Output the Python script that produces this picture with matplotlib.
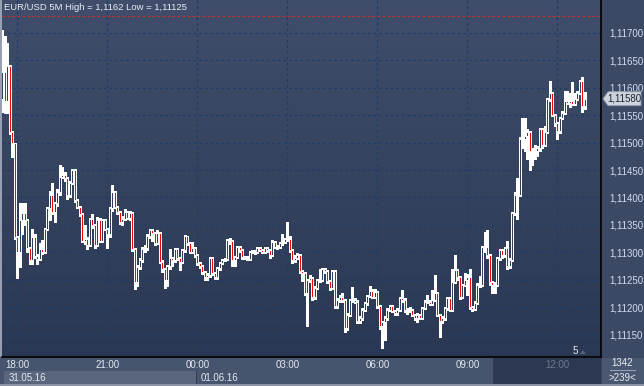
import numpy as np
import matplotlib
matplotlib.use("Agg")
import matplotlib.pyplot as plt
from matplotlib.patches import Rectangle, Polygon

plt.rcParams['font.family'] = ['Liberation Sans', 'DejaVu Sans']

# ---------------- data (prices as 1.11000 + points/100000) ----------------
BASE = 1.11
first_open_pts = 580
close_pts = [629, 575, 639, 519, 499, 328, 300, 358, 371, 358, 308, 285, 328, 294, 288, 306, 300, 343, 380, 404,
             374, 389, 410, 438, 441, 435, 404, 426, 450, 395, 383, 369, 321, 325, 314, 361, 350, 314, 358, 321,
             358, 343, 334, 380, 410, 383, 374, 355, 360, 374, 362, 371, 305, 246, 273, 285, 306, 308, 330, 340,
             335, 317, 335, 283, 269, 250, 274, 289, 285, 306, 289, 283, 304, 329, 317, 301, 307, 295, 280, 275,
             263, 255, 258, 289, 262, 255, 271, 280, 286, 288, 323, 320, 286, 292, 309, 304, 291, 290, 288, 300,
             301, 301, 307, 304, 301, 307, 304, 295, 319, 310, 310, 316, 319, 324, 324, 304, 286, 290, 295, 265,
             262, 225, 250, 253, 219, 235, 250, 250, 269, 265, 247, 235, 265, 201, 213, 219, 213, 162, 186, 212,
             213, 210, 174, 180, 195, 207, 220, 230, 219, 228, 201, 165, 172, 180, 195, 201, 192, 189, 195, 216,
             213, 195, 195, 195, 186, 180, 186, 180, 198, 210, 210, 206, 213, 225, 186, 174, 180, 198, 216, 195,
             246, 268, 254, 219, 240, 250, 255, 200, 196, 208, 240, 240, 310, 310, 295, 245, 240, 240, 289, 304,
             295, 307, 274, 286, 371, 405, 405, 506, 506, 512, 520, 484, 487, 484, 490, 524, 496, 520, 580, 591,
             551, 536, 521, 545, 554, 576, 573, 576, 571, 580, 591, 612, 566, 580]
high_pts = [706, 695, 682, 642, 522, 500, 330, 389, 389, 389, 360, 310, 343, 334, 296, 316, 322, 345, 383, 412,
            426, 392, 416, 459, 456, 446, 437, 430, 452, 451, 397, 385, 371, 350, 327, 363, 369, 352, 364, 363,
            361, 360, 345, 383, 422, 412, 385, 376, 366, 378, 376, 376, 373, 307, 276, 290, 310, 314, 334, 343,
            342, 337, 341, 337, 285, 271, 276, 306, 292, 308, 307, 291, 306, 331, 330, 318, 318, 309, 297, 282,
            277, 265, 262, 292, 291, 264, 273, 282, 288, 290, 325, 326, 322, 294, 311, 311, 306, 294, 293, 302,
            304, 304, 310, 309, 306, 309, 309, 306, 322, 321, 313, 318, 334, 326, 356, 330, 306, 295, 298, 297,
            268, 264, 252, 258, 255, 238, 252, 269, 271, 271, 267, 249, 267, 267, 216, 222, 225, 215, 189, 214,
            236, 216, 212, 183, 198, 209, 222, 238, 232, 232, 230, 203, 175, 183, 198, 204, 203, 194, 198, 218,
            231, 216, 198, 200, 197, 188, 189, 188, 200, 213, 222, 212, 231, 259, 227, 188, 183, 200, 219, 218,
            269, 295, 270, 256, 242, 262, 260, 269, 202, 211, 243, 256, 312, 336, 340, 297, 248, 245, 292, 306,
            306, 310, 320, 289, 374, 410, 435, 510, 545, 545, 524, 522, 490, 495, 493, 527, 526, 530, 582, 612,
            593, 553, 538, 547, 557, 595, 595, 590, 610, 590, 595, 614, 620, 592]
low_pts = [555, 554, 554, 515, 474, 325, 253, 273, 334, 350, 300, 279, 279, 290, 279, 285, 296, 298, 340, 358,
           370, 355, 385, 405, 435, 430, 398, 400, 424, 392, 380, 366, 318, 315, 305, 312, 345, 307, 312, 318,
           318, 340, 307, 328, 376, 380, 369, 352, 350, 358, 360, 358, 303, 233, 238, 270, 282, 300, 304, 326,
           320, 314, 315, 280, 264, 235, 238, 270, 275, 282, 285, 268, 280, 300, 314, 298, 298, 292, 277, 272,
           260, 249, 249, 255, 258, 252, 252, 268, 278, 284, 286, 315, 274, 274, 290, 300, 288, 287, 285, 286,
           298, 296, 299, 302, 298, 299, 301, 289, 293, 307, 306, 308, 314, 317, 320, 300, 280, 283, 287, 262,
           248, 222, 165, 245, 213, 215, 232, 246, 248, 262, 243, 231, 232, 198, 198, 210, 210, 154, 158, 184,
           210, 207, 171, 171, 177, 192, 204, 218, 216, 216, 198, 160, 125, 140, 176, 192, 190, 186, 186, 193,
           210, 190, 188, 190, 183, 176, 172, 178, 178, 196, 207, 203, 204, 211, 183, 145, 171, 177, 195, 192,
           193, 243, 250, 215, 216, 238, 222, 196, 192, 194, 206, 236, 238, 300, 290, 240, 225, 225, 238, 286,
           290, 292, 270, 272, 284, 368, 360, 403, 490, 485, 470, 450, 460, 470, 475, 485, 490, 494, 518, 575,
           548, 530, 506, 518, 543, 552, 570, 565, 568, 568, 578, 589, 555, 562]

hour_ticks = ["18:00", "21:00", "00:00", "03:00", "06:00", "09:00", "12:00"]
tick_bars = [0, 36, 72, 108, 144, 180, 216]      # bar offsets of the hour ticks
price_ticks = [1.1115, 1.1120, 1.1125, 1.1130, 1.1135, 1.1140, 1.1145, 1.1150,
               1.1155, 1.1160, 1.1165, 1.1170]
date_labels = ["31.05.16", "01.06.16"]
last_price = 1.11580
ref_line = 1.11731
title = "EUR/USD 5M High = 1,1162 Low = 1,11125"

closes = BASE + np.array(close_pts) / 1e5
opens = BASE + np.array([first_open_pts] + close_pts[:-1]) / 1e5
highs = BASE + np.array(high_pts) / 1e5
lows = BASE + np.array(low_pts) / 1e5
n = len(closes)
idx = np.arange(n) - 6   # bar index relative to 18:00

# ---------------- layout ----------------
W, H = 644, 386
fig = plt.figure(figsize=(W / 100, H / 100), dpi=100)
fig.patch.set_facecolor('#3a4762')

def fr(x0, y0, x1, y1):
    return [x0 / W, 1 - y1 / H, (x1 - x0) / W, (y1 - y0) / H]

def rect(x0, y0, x1, y1, color, z=-5):
    fig.patches.append(Rectangle((x0 / W, 1 - y1 / H), (x1 - x0) / W, (y1 - y0) / H,
                                 transform=fig.transFigure, facecolor=color,
                                 edgecolor='none', zorder=z))

# background pieces
rect(0, 357, 601, 386, '#46546d')
rect(4, 371, 196, 384, '#5a667d')
rect(196, 371, 197, 384, '#303c54')
rect(493, 358, 601, 384, '#2c3851')
rect(602, 0, 644, 357, '#3c4965')
rect(602, 358, 644, 386, '#4a5770')
rect(0, 0, 2, 357, '#97a0b2')
rect(0, 384, 644, 386, '#8a94a6')

ax = fig.add_axes(fr(2, 0, 601, 357))
ax.set_zorder(1)
ax.patch.set_visible(False)
ax.set_xlim(-6.12, 233.5)
ax.set_ylim(1.111088, 1.117602)

# gradient background
grad = np.linspace(0, 1, 256).reshape(-1, 1)
top = np.array([0x40, 0x4e, 0x6b]) / 255
bot = np.array([0x2b, 0x38, 0x53]) / 255
img = top[None, None, :] * (1 - grad[:, :, None]) + bot[None, None, :] * grad[:, :, None]
ax.imshow(img, extent=[-6.12, 233.5, 1.111088, 1.117602], aspect='auto', origin='upper', zorder=0)

# grid
for p in price_ticks:
    ax.axhline(p, color='#1f3b69', lw=0.9, ls=(0, (2, 2.5)), zorder=1)
for t in tick_bars:
    ax.axvline(t, color='#1f3b69', lw=0.9, ls=(0, (2, 2.5)), zorder=1)
ax.axhline(ref_line, color='#c0302e', lw=0.8, ls=(0, (2.5, 2)), zorder=1)

# candles
bw = 0.85
for x, o, h, l, c in zip(idx, opens, highs, lows, closes):
    top_b, bot_b = max(o, c), min(o, c)
    ax.vlines(x, top_b, h, color='white', lw=0.75, zorder=2, antialiased=False)
    ax.vlines(x, l, bot_b, color='white', lw=0.75, zorder=2, antialiased=False)
    fc = '#ff0000' if c < o else '#33405c'
    ax.add_patch(Rectangle((x - bw / 2, bot_b), bw, max(top_b - bot_b, 1e-7),
                           facecolor=fc, edgecolor='white', lw=0.72, zorder=3, antialiased=False))

# axes styling
for s in ['top', 'left']:
    ax.spines[s].set_visible(False)
ax.spines['bottom'].set_color('black')
ax.spines['right'].set_color('black')
ax.spines['bottom'].set_linewidth(1.2)
ax.spines['right'].set_linewidth(1.2)
ax.yaxis.tick_right()
ax.set_yticks(price_ticks)
ax.set_yticklabels([f"{p:.5f}".replace('.', ',') for p in price_ticks])
ax.tick_params(axis='y', length=0, pad=6, labelsize=7, labelcolor='#cfdbee')
ax.set_xticks(tick_bars)
ax.set_xticklabels(hour_ticks)
ax.tick_params(axis='x', length=0, pad=2, labelsize=7, labelcolor='#e2e8f2')
ax.get_xticklabels()[-1].set_color('#6d788c')

# header text
fig.text(4 / W, 1 - 8 / H, title, color='#e8ecf4', fontsize=6.8, va='center', ha='left', zorder=4)

# date labels
fig.text(9 / W, 1 - 378 / H, date_labels[0], color='#e2e8f2', fontsize=7, va='center', zorder=4)
fig.text(201 / W, 1 - 378 / H, date_labels[1], color='#e2e8f2', fontsize=7, va='center', zorder=4)

# bottom-right box
fig.text(622 / W, 1 - 363 / H, "1342", color='#e8ecf4', fontsize=7, va='center', ha='center', zorder=4)
fig.lines.append(plt.Line2D([610 / W, 635 / W], [1 - 370 / H, 1 - 370 / H], transform=fig.transFigure,
                            color='#a9b3c4', lw=0.6, zorder=4))
fig.text(622 / W, 1 - 378 / H, ">239<", color='#e8ecf4', fontsize=7, va='center', ha='center', zorder=4)

# "5" marker
fig.text(575 / W, 1 - 351 / H, "5", color='#e8ecf4', fontsize=7, va='center', ha='center', zorder=4)
fig.patches.append(Polygon([[580 / W, 1 - 354 / H], [586 / W, 1 - 354 / H], [583 / W, 1 - 350 / H]],
                           closed=True, transform=fig.transFigure, facecolor='#56627a', edgecolor='none',
                           zorder=4))

# last price tag
ly = 33 + (1.117 - last_price) / 0.001 * 54.8
tag = [[603, ly], [608, ly - 7], [641, ly - 7], [641, ly + 7], [608, ly + 7]]
fig.patches.append(Polygon([[x / W, 1 - y / H] for x, y in tag], closed=True, transform=fig.transFigure,
                           facecolor='#cfd3da', edgecolor='#8a93a3', lw=0.6, zorder=5))
fig.text(624 / W, 1 - ly / H, f"{last_price:.5f}".replace('.', ','), color='#1b2333', fontsize=7,
         va='center', ha='center', zorder=6)

fig.savefig("out.png", dpi=100, facecolor=fig.get_facecolor())
